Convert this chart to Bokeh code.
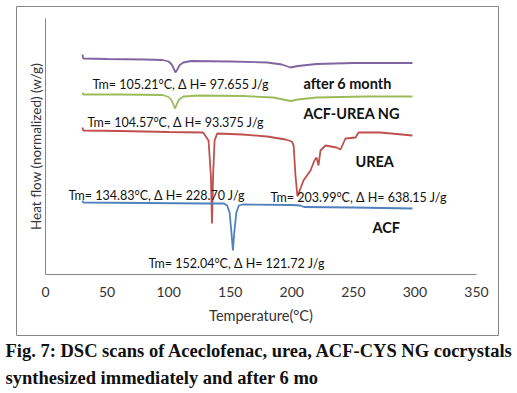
from bokeh.plotting import figure
from bokeh.models import Range1d, FixedTicker, ColumnDataSource, Title
from bokeh.core.properties import value
from bokeh.embed import file_html
from bokeh.resources import INLINE

# ---- data: temperature (°C) and normalized heat flow (arbitrary, curves stacked) ----
after6_T = [30, 30.6, 50, 80, 95, 100, 102.5, 104.5, 105.5, 107, 109, 112, 118, 150, 180, 192, 199, 205, 220, 250, 298]
after6_hf = [220, 216, 215.5, 215, 214.5, 213, 210, 205, 202, 205, 209.5, 212, 213.5, 213, 212, 210, 207, 208.5, 210.5, 211.5, 211.5]

ng_T = [30, 30.6, 60, 95, 100, 102.5, 104.5, 105.3, 106.5, 108.5, 112, 125, 160, 185, 195, 199, 205, 220, 260, 298]
ng_hf = [182, 180, 180, 179.5, 177.5, 174, 168, 166, 170, 175, 178, 179, 178.5, 177, 174.5, 173.5, 175, 177, 178, 178]

urea_T = [30, 30.6, 60, 100, 128, 132.4, 134.3, 135.2, 136.1, 137.3, 139.4, 160, 180, 195, 200, 201.5, 203,
          204.6, 209.5, 215.2, 218.4, 220.1, 221.7, 223.3, 227.4, 236.3, 239.6, 243.6, 251.8, 254.2, 272, 298]
urea_hf = [147, 144, 143.5, 142.5, 142, 134, 99, 51, 99, 134, 141, 140, 138, 135, 133, 129, 99,
           78, 94, 104, 114, 117, 109, 124, 129, 127, 125, 136, 137, 142, 142, 139]

acf_T = [30, 30.6, 80, 130, 145, 147.5, 149.5, 151, 152.2, 153.3, 155, 157, 160, 200, 207, 210, 250, 298]
acf_hf = [74, 72, 71.5, 71, 71, 69, 62, 42, 24, 42, 62, 69, 70, 69.5, 69, 67.5, 67, 66]

x_ticks = [0, 50, 100, 150, 200, 250, 300, 350]
x_axis_span = (0, 350)
y_axis_span = (0, 256)

# ---- annotations (texts with anchor positions in data coordinates) ----
note_texts = ["Tm= 105.21°C, Δ H= 97.655 J/g", "Tm= 104.57°C, Δ H= 93.375 J/g",
              "Tm= 134.83°C, Δ H= 228.70 J/g", "Tm= 203.99°C, Δ H= 638.15 J/g",
              "Tm= 152.04°C, Δ H= 121.72 J/g"]
note_x = [38.2, 34.1, 18.7, 182.7, 83.6]
note_y = [190, 152, 79, 77, 11]

name_texts = ["after 6 month", "ACF-UREA NG", "UREA", "ACF"]
name_x = [209.5, 209.5, 251.7, 265.5]
name_y = [191, 161, 113, 47]

caption_lines = ["Fig. 7: DSC scans of Aceclofenac, urea, ACF-CYS NG cocrystals",
                 "synthesized immediately and after 6 mo"]

FONT = "Lato"
GRAY = "#868686"

# frame = the chart's outer border box; axes are pinned inside it
p = figure(width=517, height=392, output_backend="svg", toolbar_location=None,
           x_range=Range1d(-23.55, 367.87), y_range=Range1d(-61, 268),
           min_border_left=16, min_border_right=19, min_border_top=6, min_border_bottom=57)
p.outline_line_color = GRAY
p.outline_line_width = 1
p.xgrid.visible = False
p.ygrid.visible = False
p.background_fill_color = "white"
p.border_fill_color = "white"

for T, hf, col in [(after6_T, after6_hf, "#8064A2"), (ng_T, ng_hf, "#9BBB59"),
                   (urea_T, urea_hf, "#C0504D"), (acf_T, acf_hf, "#4F81BD")]:
    p.line(T, hf, line_color=col, line_width=1.8)

src_n = ColumnDataSource(dict(x=note_x, y=note_y, t=note_texts))
p.text(x="x", y="y", text="t", source=src_n, text_font=value(FONT), text_font_size="12.5px",
       text_baseline="middle", text_align="left", text_color="#111111")
src_m = ColumnDataSource(dict(x=name_x, y=name_y, t=name_texts))
p.text(x="x", y="y", text="t", source=src_m, text_font=value(FONT), text_font_size="14.5px",
       text_font_style="bold", text_baseline="middle", text_align="left", text_color="#111111")

# axes
xa = p.xaxis[0]
xa.fixed_location = 0
xa.bounds = x_axis_span
xa.ticker = FixedTicker(ticks=x_ticks)
xa.minor_tick_line_color = None
xa.major_tick_line_color = None
xa.major_tick_out = 0
xa.major_tick_in = 0
xa.major_label_standoff = 12
xa.axis_line_color = GRAY
xa.major_label_text_font = FONT
xa.major_label_text_font_size = "14px"
xa.major_label_text_color = "#333333"
xa.axis_label = "Temperature(°C)"
xa.axis_label_text_font = FONT
xa.axis_label_text_font_size = "14.5px"
xa.axis_label_text_font_style = "normal"
xa.axis_label_text_color = "#333333"
xa.axis_label_standoff = 7

ya = p.yaxis[0]
ya.fixed_location = 0
ya.bounds = y_axis_span
ya.ticker = FixedTicker(ticks=[])
ya.minor_tick_line_color = None
ya.major_tick_line_color = None
ya.major_tick_out = 0
ya.major_tick_in = 0
ya.major_label_standoff = 0
ya.axis_line_color = GRAY
ya.axis_label = "Heat flow (normalized) (w/g)"
ya.axis_label_text_font = FONT
ya.axis_label_text_font_size = "13.5px"
ya.axis_label_text_font_style = "normal"
ya.axis_label_text_color = "#333333"
ya.axis_label_standoff = 2

# caption below the chart
p.add_layout(Title(text=caption_lines[0], align="left", offset=-11, standoff=6,
                   text_font="Liberation Serif", text_font_style="bold",
                   text_font_size="18.5px", text_color="#111111"), "below")
p.add_layout(Title(text=caption_lines[1], align="left", offset=-11, standoff=4,
                   text_font="Liberation Serif", text_font_style="bold",
                   text_font_size="18.5px", text_color="#111111"), "below")

open("out.html", "w").write(file_html(p, INLINE))
